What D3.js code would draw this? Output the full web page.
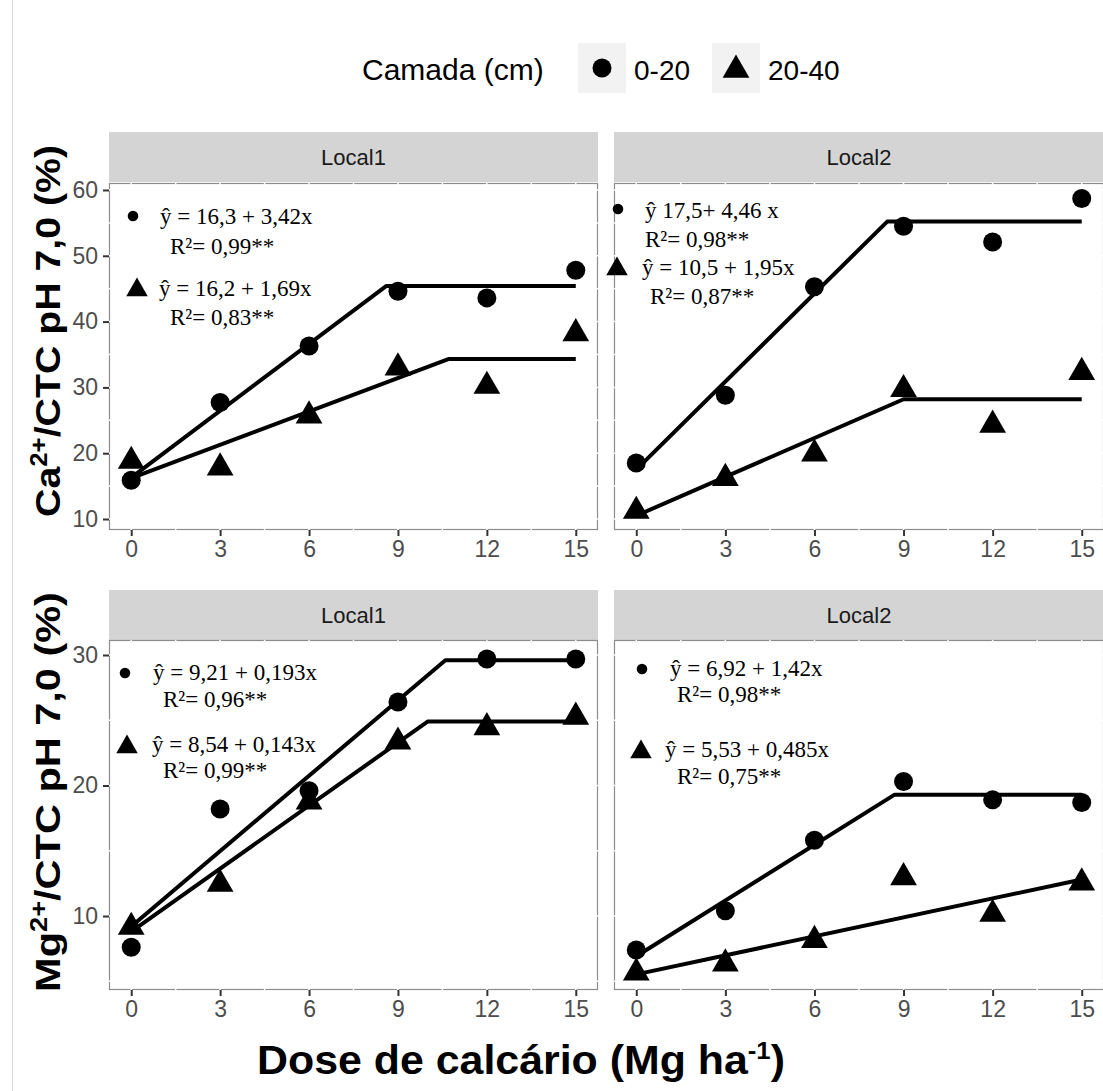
<!DOCTYPE html>
<html><head><meta charset="utf-8">
<script src="https://cdn.jsdelivr.net/npm/d3@7"></script>
<style>body{margin:0;background:#fff}svg{display:block}</style>
</head><body><svg id="c" width="1103" height="1091"></svg>
<script>
// ---------- DATA ----------
const doses = [0, 3, 6, 9, 12, 15];
const xTicks = [0, 3, 6, 9, 12, 15];
const caTicks = [10, 20, 30, 40, 50, 60];
const mgTicks = [10, 20, 30];
const locals = ["Local1", "Local2"];
const layers = ["0-20", "20-40"];

// Ca2+/CTC (%)
const caL1_0_20  = [15.9, 27.7, 36.3, 44.6, 43.6, 47.8];
const caL1_20_40 = [19.1, 18.1, 26.0, 33.3, 30.5, 38.5];
const caL2_0_20  = [18.5, 28.8, 45.3, 54.5, 52.1, 58.7];
const caL2_20_40 = [11.5, 16.5, 20.2, 30.0, 24.6, 32.6];
// Mg2+/CTC (%)
const mgL1_0_20  = [7.6, 18.2, 19.6, 26.4, 29.7, 29.7];
const mgL1_20_40 = [9.3, 12.6, 18.9, 23.5, 24.6, 25.4];
const mgL2_0_20  = [7.4, 10.4, 15.8, 20.3, 18.9, 18.7];
const mgL2_20_40 = [5.8, 6.5, 8.3, 13.1, 10.3, 12.7];

// fitted (linear-plateau) lines: [x, y] vertices
const fitCaL1_0_20  = [[0, 16.3], [8.6, 45.4], [15, 45.4]];
const fitCaL1_20_40 = [[0, 16.2], [10.7, 34.3], [15, 34.3]];
const fitCaL2_0_20  = [[0, 17.5], [8.45, 55.2], [15, 55.2]];
const fitCaL2_20_40 = [[0, 10.5], [9, 28.2], [15, 28.2]];
const fitMgL1_0_20  = [[0, 9.2], [10.6, 29.6], [15, 29.6]];
const fitMgL1_20_40 = [[0, 8.8], [10, 24.9], [15, 24.9]];
const fitMgL2_0_20  = [[0, 6.92], [8.7, 19.3], [15, 19.3]];
const fitMgL2_20_40 = [[0, 5.53], [15, 12.8]];

// equation labels
const eqCaL1 = [["ŷ = 16,3 + 3,42x", "R²= 0,99**"], ["ŷ = 16,2 + 1,69x", "R²= 0,83**"]];
const eqCaL2 = [["ŷ 17,5+ 4,46 x", "R²= 0,98**"], ["ŷ = 10,5 + 1,95x", "R²= 0,87**"]];
const eqMgL1 = [["ŷ = 9,21 + 0,193x", "R²= 0,96**"], ["ŷ = 8,54 + 0,143x", "R²= 0,99**"]];
const eqMgL2 = [["ŷ = 6,92 + 1,42x", "R²= 0,98**"], ["ŷ = 5,53 + 0,485x", "R²= 0,75**"]];

// ---------- LAYOUT ----------
const svg = d3.select("#c");
const SANS = "Liberation Sans, Arial, sans-serif";
const SERIF = "Liberation Serif, Times New Roman, serif";
const colX = [[109, 598], [614, 1104]];
const rows = [
  {strip:[132,182], y:[530,183], dom:[8.33, 61.06], ticks:caTicks,
   series:[[caL1_0_20, caL1_20_40],[caL2_0_20, caL2_20_40]],
   fits:[[fitCaL1_0_20, fitCaL1_20_40],[fitCaL2_0_20, fitCaL2_20_40]],
   eqs:[eqCaL1, eqCaL2],
   eqPos:[ // [markerX, markerY, eqX, eqY, r2X, r2Y] relative to panel left/top
     [[24,33,51,41,61,71],[28,105,50,113,61,142]],
     [[4,26,31,35,31,64],[3,84,28,92,36,121]]]},
  {strip:[590,640], y:[990,640], dom:[4.33, 31.15], ticks:mgTicks,
   series:[[mgL1_0_20, mgL1_20_40],[mgL2_0_20, mgL2_20_40]],
   fits:[[fitMgL1_0_20, fitMgL1_20_40],[fitMgL2_0_20, fitMgL2_20_40]],
   eqs:[eqMgL1, eqMgL2],
   eqPos:[
     [[16,33,44,40,54,67],[18,105,43,112,54,138]],
     [[28,29,56,36,63,62],[27,110,51,117,63,144]]]}
];

const circle = d3.symbol().type(d3.symbolCircle).size(Math.PI*9.5*9.5);
const tri = d3.symbol().type(d3.symbolTriangle).size(310);
const triSmall = d3.symbol().type(d3.symbolTriangle).size(200);

// outer frame line on left
svg.append("line").attr("x1",12.5).attr("x2",12.5).attr("y1",0).attr("y2",1091)
  .attr("stroke","#d9d9d9").attr("stroke-width",1);

rows.forEach((row, ri) => {
  const y = d3.scaleLinear().domain(row.dom).range(row.y);
  colX.forEach((cx, ci) => {
    const x = d3.scaleLinear().domain([-0.75, 15.75]).range(cx);
    const g = svg.append("g");
    const top = row.y[1], bot = row.y[0], left = cx[0], right = cx[1];
    // strip
    g.append("rect").attr("x",left).attr("y",row.strip[0]).attr("width",right-left)
      .attr("height",row.strip[1]-row.strip[0]).attr("fill","#d4d4d4");
    g.append("text").attr("x",(left+right)/2).attr("y",(row.strip[0]+row.strip[1])/2+8)
      .attr("text-anchor","middle").attr("font-family",SANS)
      .attr("font-size",22).attr("fill","#1a1a1a").text(locals[ci]);
    // panel border
    g.append("rect").attr("x",left+0.5).attr("y",top+0.5).attr("width",right-left-1)
      .attr("height",bot-top-1).attr("fill","none").attr("stroke","#8c8c8c").attr("stroke-width",1.2);
    // white grid lines (major+minor) creating gaps in border
    const gx = d3.range(0, 16.5, 1.5);
    g.selectAll(".gx").data(gx).join("line").attr("x1",d=>x(d)).attr("x2",d=>x(d))
      .attr("y1",top).attr("y2",bot).attr("stroke","#fff").attr("stroke-width",1.5);
    const gy = d3.range(row.ticks[0]-5, row.dom[1], 5).filter(v=>v>row.dom[0]);
    g.selectAll(".gy").data(gy).join("line").attr("y1",d=>y(d)).attr("y2",d=>y(d))
      .attr("x1",left).attr("x2",right).attr("stroke","#fff").attr("stroke-width",1.5);
    // axes
    const xa = g.append("g").attr("transform",`translate(0,${bot})`)
      .call(d3.axisBottom(x).tickValues(xTicks).tickSize(6).tickPadding(5));
    xa.select(".domain").remove();
    xa.selectAll("line").attr("stroke","#333").attr("stroke-width",2);
    xa.selectAll("text").attr("font-family",SANS)
      .attr("font-size",23).attr("fill","#4d4d4d");
    if (ci === 0) {
      const ya = g.append("g").attr("transform",`translate(${left},0)`)
        .call(d3.axisLeft(y).tickValues(row.ticks).tickSize(6).tickPadding(5));
      ya.select(".domain").remove();
      ya.selectAll("line").attr("stroke","#333").attr("stroke-width",2);
      ya.selectAll("text").attr("font-family",SANS)
        .attr("font-size",23).attr("fill","#4d4d4d");
    }
    // fit lines
    const line = d3.line().x(d=>x(d[0])).y(d=>y(d[1]));
    row.fits[ci].forEach(f => {
      g.append("path").attr("d",line(f)).attr("fill","none").attr("stroke","#000")
        .attr("stroke-width",4).attr("stroke-linejoin","round");
    });
    // points
    row.series[ci].forEach((s, si) => {
      g.selectAll(".p"+si).data(s).join("path")
        .attr("transform",(d,i)=>`translate(${x(doses[i])},${y(d) + (si===1?2:0)})`)
        .attr("d", si===0 ? circle() : tri()).attr("fill","#000");
    });
    // equation annotations
    row.eqs[ci].forEach((eq, ei) => {
      const p = row.eqPos[ci][ei];
      g.append("path").attr("transform",`translate(${left+p[0]},${top+p[1]+(ei===1?2:0)})`)
        .attr("d", ei===0 ? d3.symbol().type(d3.symbolCircle).size(Math.PI*28)() : triSmall())
        .attr("fill","#000");
      g.append("text").attr("x",left+p[2]).attr("y",top+p[3])
        .attr("font-family",SERIF).attr("font-size",23)
        .attr("fill","#000").text(eq[0]);
      g.append("text").attr("x",left+p[4]).attr("y",top+p[5])
        .attr("font-family",SERIF).attr("font-size",23)
        .attr("fill","#000").text(eq[1]);
    });
  });
});

// stretch a text group along its reading direction to a target length
function stretch(gSel, target) {
  const t = gSel.select("text").node();
  const w = t.getBBox().width;
  gSel.select("text").attr("transform", `scale(${target / w},1)`);
}

// Y axis titles
function yTitle(cy, ion, len) {
  const g = svg.append("g").attr("transform",`translate(60,${cy}) rotate(-90)`);
  const t = g.append("text").attr("x",0).attr("y",0)
    .attr("text-anchor","middle").attr("font-family",SANS)
    .attr("font-weight","bold").attr("font-size",35).attr("fill","#000");
  t.append("tspan").text(ion);
  t.append("tspan").attr("dy",-13).attr("font-size",23).text("2+");
  t.append("tspan").attr("dy",13).text("/CTC pH 7,0 (%)");
  stretch(g, len);
}
yTitle(331, "Ca", 372);
yTitle(792, "Mg", 400);

// X axis title
const xg = svg.append("g").attr("transform","translate(521,1074)");
const xt = xg.append("text").attr("x",0).attr("y",0).attr("text-anchor","middle")
  .attr("font-family",SANS).attr("font-weight","bold")
  .attr("font-size",40).attr("fill","#000");
xt.append("tspan").text("Dose de calcário (Mg ha");
xt.append("tspan").attr("dy",-15).attr("font-size",24).text("-1");
xt.append("tspan").attr("dy",15).text(")");
stretch(xg, 528);

// Legend
const lg = svg.append("g");
lg.append("text").attr("x",362).attr("y",80).attr("font-family",SANS)
  .attr("font-size",30).attr("fill","#000").text("Camada (cm)");
const keyX = [578, 712], labX = [634, 768];
layers.forEach((l, i) => {
  lg.append("rect").attr("x",keyX[i]).attr("y",43).attr("width",48).attr("height",50).attr("fill","#f2f2f2");
  lg.append("path").attr("transform",`translate(${keyX[i]+24},${i===0?68:70})`)
    .attr("d", i===0 ? circle() : tri()).attr("fill","#000");
  lg.append("text").attr("x",labX[i]).attr("y",80).attr("font-family",SANS)
    .attr("font-size",28).attr("fill","#000").text(l);
});
</script></body></html>
